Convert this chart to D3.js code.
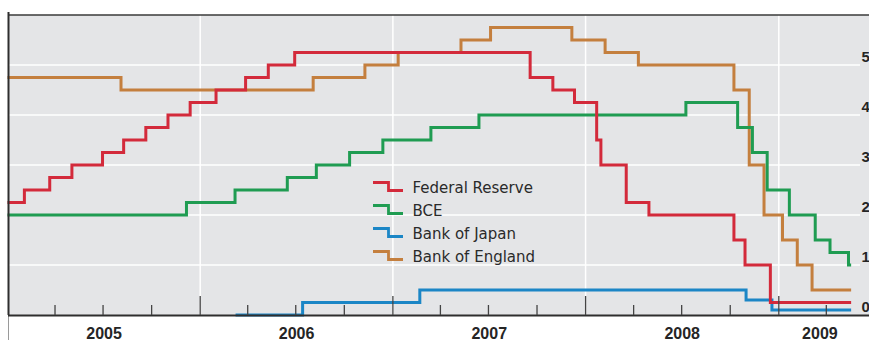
<!DOCTYPE html>
<html>
<head>
<meta charset="utf-8">
<script src="https://cdn.jsdelivr.net/npm/d3@7/dist/d3.min.js"></script>
<style>
  html, body { margin: 0; padding: 0; background: #ffffff; }
  svg { display: block; }
</style>
</head>
<body>
<svg id="chart" width="869" height="340"></svg>
<script>
// Policy rates (%) of four central banks, 2005 – mid 2009.
// Each series is a list of rate-change dates and the rate in force from that date.
const fedDates  = ["2005-01-01","2005-02-02","2005-03-22","2005-05-03","2005-06-30","2005-08-09","2005-09-20","2005-11-01","2005-12-13","2006-01-31","2006-03-28","2006-05-10","2006-06-29","2007-09-18","2007-10-31","2007-12-11","2008-01-22","2008-01-30","2008-03-18","2008-04-30","2008-10-08","2008-10-29","2008-12-16"];
const fedRates  = [2.25, 2.5, 2.75, 3.0, 3.25, 3.5, 3.75, 4.0, 4.25, 4.5, 4.75, 5.0, 5.25, 4.75, 4.5, 4.25, 3.5, 3.0, 2.25, 2.0, 1.5, 1.0, 0.25];

const bceDates  = ["2005-01-01","2005-12-06","2006-03-08","2006-06-15","2006-08-09","2006-10-11","2006-12-13","2007-03-14","2007-06-13","2008-07-09","2008-10-15","2008-11-12","2008-12-10","2009-01-21","2009-03-11","2009-04-08","2009-05-13"];
const bceRates  = [2.0, 2.25, 2.5, 2.75, 3.0, 3.25, 3.5, 3.75, 4.0, 4.25, 3.75, 3.25, 2.5, 2.0, 1.5, 1.25, 1.0];

const bojDates  = ["2006-03-09","2006-07-14","2007-02-21","2008-10-31","2008-12-19"];
const bojRates  = [0.0, 0.25, 0.5, 0.3, 0.1];

const boeDates  = ["2005-01-01","2005-08-04","2006-08-03","2006-11-09","2007-01-11","2007-05-10","2007-07-05","2007-12-06","2008-02-07","2008-04-10","2008-10-08","2008-11-06","2008-12-04","2009-01-08","2009-02-05","2009-03-05"];
const boeRates  = [4.75, 4.5, 4.75, 5.0, 5.25, 5.5, 5.75, 5.5, 5.25, 5.0, 4.5, 3.0, 2.0, 1.5, 1.0, 0.5];

const lastDate   = "2009-05-18";
const seriesNames = ["Federal Reserve", "BCE", "Bank of Japan", "Bank of England"];
const seriesColors = ["#d32a3b", "#1f9c52", "#1b86c6", "#c47f3e"];
const yearLabels = ["2005", "2006", "2007", "2008", "2009"];
const rateTicks  = [0, 1, 2, 3, 4, 5];

const parse = d3.utcParse("%Y-%m-%d");

// Layout
const W = 869, H = 340;
const plotLeft = 8, plotTop = 15, plotBottom = 315, plotRight = 861;

const x = d3.scaleUtc()
  .domain([parse("2005-01-01"), parse("2010-01-01")])
  .range([7.5, 971.5]);
const y = d3.scaleLinear().domain([0, 6]).range([plotBottom, plotTop]);

const svg = d3.select("#chart");

// Plot background
svg.append("rect")
  .attr("x", plotLeft).attr("y", plotTop)
  .attr("width", W - plotLeft).attr("height", plotBottom - plotTop)
  .attr("fill", "#e4e5e7");

// Horizontal gridlines
svg.append("g").selectAll("line")
  .data(rateTicks.filter(d => d > 0))
  .join("line")
  .attr("x1", plotLeft).attr("x2", plotRight - 1)
  .attr("y1", d => y(d)).attr("y2", d => y(d))
  .attr("stroke", "#ffffff").attr("stroke-width", 1.5);

// Vertical gridlines at year boundaries
const yearStarts = yearLabels.map(s => parse(s + "-01-01"));
svg.append("g").selectAll("line")
  .data(yearStarts.slice(1))
  .join("line")
  .attr("x1", d => x(d)).attr("x2", d => x(d))
  .attr("y1", plotTop).attr("y2", plotBottom)
  .attr("stroke", "#ffffff").attr("stroke-width", 1.5);

// Series
const series = [
  { dates: bojDates, rates: bojRates, color: seriesColors[2] },
  { dates: boeDates, rates: boeRates, color: seriesColors[3] },
  { dates: bceDates, rates: bceRates, color: seriesColors[1] },
  { dates: fedDates, rates: fedRates, color: seriesColors[0] }
];

const line = d3.line()
  .x(d => x(d.date))
  .y(d => y(d.value))
  .curve(d3.curveStepAfter);

series.forEach(s => {
  const pts = s.dates.map((d, i) => ({ date: parse(d), value: s.rates[i] }));
  pts.push({ date: parse(lastDate), value: s.rates[s.rates.length - 1] });
  svg.append("path")
    .datum(pts)
    .attr("d", line)
    .attr("fill", "none")
    .attr("stroke", s.color)
    .attr("stroke-width", 3)
    .attr("stroke-linejoin", "miter")
    .attr("stroke-linecap", "butt");
});

// Frame: top rule, left rule, bottom axis
svg.append("line")
  .attr("x1", plotLeft).attr("x2", W).attr("y1", plotTop).attr("y2", plotTop)
  .attr("stroke", "#3a3a3a").attr("stroke-width", 1.6);
svg.append("line")
  .attr("x1", plotLeft + 0.5).attr("x2", plotLeft + 0.5).attr("y1", 12).attr("y2", plotBottom)
  .attr("stroke", "#2e2e2e").attr("stroke-width", 2);
svg.append("line")
  .attr("x1", plotLeft + 0.5).attr("x2", plotLeft + 0.5).attr("y1", plotBottom).attr("y2", H)
  .attr("stroke", "#9a9a9a").attr("stroke-width", 1);
svg.append("line")
  .attr("x1", plotLeft).attr("x2", W).attr("y1", plotBottom + 0.5).attr("y2", plotBottom + 0.5)
  .attr("stroke", "#2e2e2e").attr("stroke-width", 2.2);

// Year ticks and quarter ticks
const quarterTicks = d3.utcMonth.every(3).range(parse("2005-01-01"), parse("2010-01-01"))
  .filter(d => d.getUTCMonth() !== 0 && x(d) < plotRight);
svg.append("g").selectAll("line")
  .data(quarterTicks)
  .join("line")
  .attr("x1", d => x(d)).attr("x2", d => x(d))
  .attr("y1", plotBottom).attr("y2", plotBottom - 10)
  .attr("stroke", "#444").attr("stroke-width", 1.3);
svg.append("g").selectAll("line")
  .data(yearStarts.slice(1))
  .join("line")
  .attr("x1", d => x(d)).attr("x2", d => x(d))
  .attr("y1", plotBottom).attr("y2", plotBottom - 19)
  .attr("stroke", "#444").attr("stroke-width", 1.3);

// Year labels centred on the visible part of each year
svg.append("g").selectAll("text")
  .data(yearLabels)
  .join("text")
  .attr("x", (d, i) => {
    const a = Math.max(x(yearStarts[i]), plotLeft);
    const b = Math.min(x(d3.utcYear.offset(yearStarts[i], 1)), plotRight);
    return (a + b) / 2;
  })
  .attr("y", 338.5)
  .attr("text-anchor", "middle")
  .attr("font-family", "'Liberation Sans', Arial, sans-serif")
  .attr("font-weight", "bold")
  .attr("font-size", 16)
  .attr("fill", "#252525")
  .text(d => d);

// Rate labels on the right
svg.append("g").selectAll("text")
  .data(rateTicks)
  .join("text")
  .attr("x", 861.5)
  .attr("y", d => y(d) - 3.5)
  .attr("font-family", "'Liberation Sans', Arial, sans-serif")
  .attr("font-weight", "bold")
  .attr("font-size", 15)
  .attr("fill", "#252525")
  .text(d => d);

// Legend
const legend = svg.append("g");
const legendBase = [193, 216, 239, 262];
seriesNames.forEach((name, i) => {
  const b = legendBase[i];
  legend.append("path")
    .attr("d", `M373,${b - 10.5}H388.5V${b - 2.5}H403`)
    .attr("fill", "none")
    .attr("stroke", seriesColors[i])
    .attr("stroke-width", 2.8);
  legend.append("text")
    .attr("x", 412.5)
    .attr("y", b)
    .attr("font-family", "'DejaVu Sans', sans-serif")
    .attr("font-size", 15)
    .attr("fill", "#2a2a2a")
    .text(name);
});
</script>
</body>
</html>
